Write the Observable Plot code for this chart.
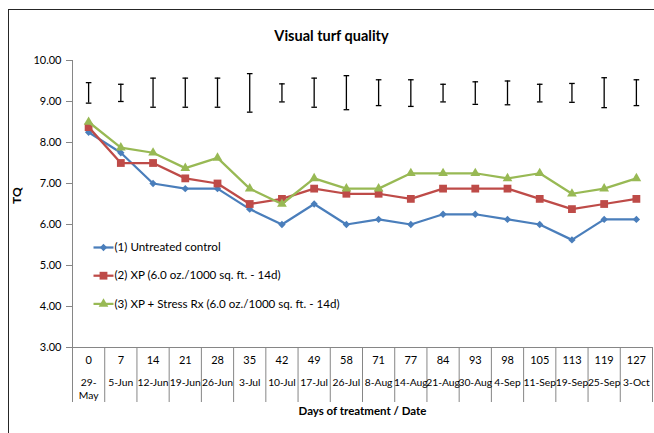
<!DOCTYPE html>
<html><head><meta charset="utf-8">
<script src="https://cdn.jsdelivr.net/npm/d3@7"></script>
<script src="https://cdn.jsdelivr.net/npm/@observablehq/plot@0.6"></script>
<style>
body{margin:0;background:#fff;}
#wrap{position:relative;width:654px;height:433px;overflow:hidden;font-family:Lato,"Open Sans",sans-serif;}
#frame{position:absolute;left:8px;top:9px;width:700px;height:500px;border-left:1.5px solid #262626;border-top:1.5px solid #262626;}
#chart{position:absolute;left:0;top:0;}
</style></head><body>
<div id="wrap"><div id="frame"></div><div id="chart"></div></div>
<script>
const days = ["0","7","14","21","28","35","42","49","58","71","77","84","93","98","105","113","119","127"];
const dates = ["29-\nMay","5-Jun","12-Jun","19-Jun","26-Jun","3-Jul","10-Jul","17-Jul","26-Jul","8-Aug","14-Aug","21-Aug","30-Aug","4-Sep","11-Sep","19-Sep","25-Sep","3-Oct"];
const seriesNames = ["(1) Untreated control","(2) XP (6.0 oz./1000 sq. ft. - 14d)","(3) XP + Stress Rx (6.0 oz./1000 sq. ft. - 14d)"];
const untreated = [8.25,7.75,7.00,6.875,6.875,6.375,6.00,6.50,6.00,6.125,6.00,6.25,6.25,6.125,6.00,5.625,6.125,6.125];
const xp = [8.375,7.50,7.50,7.125,7.00,6.50,6.625,6.875,6.75,6.75,6.625,6.875,6.875,6.875,6.625,6.375,6.50,6.625];
const xpStress = [8.50,7.875,7.75,7.375,7.625,6.875,6.50,7.125,6.875,6.875,7.25,7.25,7.25,7.125,7.25,6.75,6.875,7.125];
const errTop = [9.46,9.42,9.57,9.57,9.57,9.68,9.43,9.57,9.63,9.53,9.53,9.42,9.48,9.50,9.42,9.44,9.58,9.53];
const errBottom = [8.96,9.00,8.86,8.86,8.86,8.74,8.99,8.86,8.80,8.90,8.88,8.99,8.93,8.92,8.99,8.98,8.85,8.90];
const yTicks = [3,4,5,6,7,8,9,10];

const colors = ["#4A7EBB","#BE4B48","#98B954"];
const symbols = ["diamond2","square","triangle"];
const radii = [3.3,4.4,3.6];
const seriesValues = [untreated, xp, xpStress];

const hline = {draw(ctx, size){const r = Math.sqrt(size/Math.PI); ctx.moveTo(-r,0); ctx.lineTo(r,0);}};
const idx = d3.range(days.length);
const font = "Lato, 'Open Sans', sans-serif";
const axisGray = "#868686";

const marks = [
  Plot.ruleY([3], {stroke: axisGray}),
  Plot.ruleX([-0.5], {stroke: axisGray}),
  Plot.ruleX(d3.range(days.length + 1), {x: i => i - 0.5, y1: 3, y2: 3, insetBottom: -55, stroke: axisGray}),
  Plot.axisY({ticks: yTicks, tickSize: 6, text: null, stroke: axisGray, label: null}),
  Plot.axisY({ticks: yTicks, tickSize: 0, tickPadding: 11, tickFormat: d3.format(".2f"), fontSize: 11, fill: "#000", label: null}),
  Plot.text(idx, {x: i => i, frameAnchor: "bottom", dy: 13, lineAnchor: "middle", text: i => days[i], fontSize: 11, fill: "#000"}),
  Plot.text(idx, {x: i => i, frameAnchor: "bottom", dy: 29, lineAnchor: "top", lineHeight: 1.3, text: i => dates[i], fontSize: 10.3, fill: "#000"}),
  Plot.text(["Days of treatment / Date"], {frameAnchor: "bottom", dy: 64, lineAnchor: "middle", fontSize: 11.5, fontWeight: "bold", fill: "#000"}),
  Plot.text(["TQ"], {frameAnchor: "left", dx: -55, rotate: -90, lineAnchor: "middle", fontSize: 12, fontWeight: "bold", fill: "#000"}),
  Plot.text(["Visual turf quality"], {frameAnchor: "top", dx: -31, dy: -24, lineAnchor: "middle", fontSize: 14.5, fontWeight: "bold", fill: "#000"}),
  Plot.ruleX(idx, {x: i => i, y1: i => errBottom[i], y2: i => errTop[i], stroke: "#000", strokeWidth: 1.3}),
  Plot.dot(idx, {x: i => i, y: i => errTop[i], symbol: hline, r: 2.8, fill: "none", stroke: "#000", strokeWidth: 1.3}),
  Plot.dot(idx, {x: i => i, y: i => errBottom[i], symbol: hline, r: 2.8, fill: "none", stroke: "#000", strokeWidth: 1.3})
];

seriesValues.forEach((vals, k) => {
  marks.push(Plot.line(idx, {x: i => i, y: i => vals[i], stroke: colors[k], strokeWidth: 2.25}));
  marks.push(Plot.dot(idx, {x: i => i, y: i => vals[i], symbol: symbols[k], r: radii[k], fill: colors[k], stroke: "none"}));
});

seriesNames.forEach((name, k) => {
  const dy = 187 + 28.2 * k;
  marks.push(Plot.dot([name], {frameAnchor: "top-left", dx: 31, dy, symbol: hline, r: 10, fill: "none", stroke: colors[k], strokeWidth: 2.25}));
  marks.push(Plot.dot([name], {frameAnchor: "top-left", dx: 31, dy, symbol: symbols[k], r: radii[k], fill: colors[k], stroke: "none"}));
  marks.push(Plot.text([name], {frameAnchor: "top-left", dx: 42, dy, text: d => d, textAnchor: "start", lineAnchor: "middle", fontSize: 11.6, fill: "#000"}));
});

const chart = Plot.plot({
  width: 654,
  height: 433,
  marginLeft: 72,
  marginRight: 2,
  marginTop: 60,
  marginBottom: 86,
  style: {fontFamily: font, background: "transparent", overflow: "visible"},
  x: {type: "linear", domain: [-0.5, days.length - 0.5], axis: null},
  y: {domain: [3, 10], axis: null},
  marks
});
document.getElementById("chart").appendChild(chart);
</script>
</body></html>
